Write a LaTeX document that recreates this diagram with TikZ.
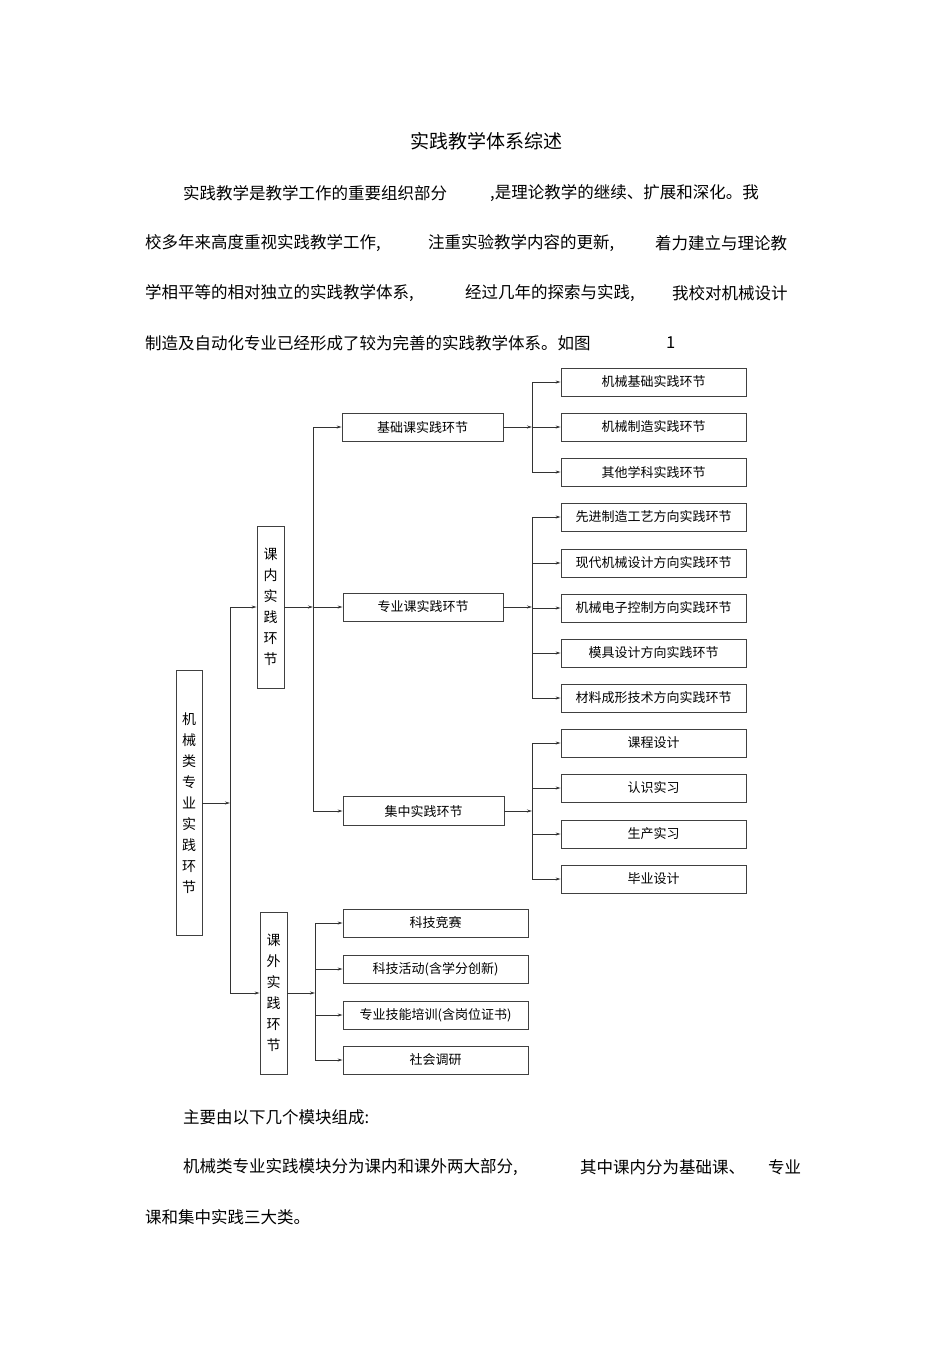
\documentclass[tikz,border=0pt]{standalone}
\usepackage{fontspec}
\setmainfont{Noto Sans CJK SC}
\usetikzlibrary{arrows.meta}
\begin{document}
\begin{tikzpicture}[x=1pt,y=-1pt,
 box/.style={draw=black!75,line width=0.8pt,inner sep=0pt,font=\fontsize{13}{15}\selectfont},
 vbox/.style={draw=black!75,line width=0.8pt,inner sep=0pt,minimum width=27pt,font=\fontsize{14}{21}\selectfont,align=center},
 txt/.style={anchor=west,inner sep=0pt,font=\fontsize{16.5}{18}\selectfont},
 ar/.style={-{Stealth[length=5pt,width=3pt]},line width=0.8pt,draw=black!80},
 ln/.style={line width=0.8pt,draw=black!80}]
\useasboundingbox (0,0) rectangle (950,1345);
\node[font=\fontsize{19}{20}\selectfont] (title) at (486,141) {实践教学体系综述};
\node[txt] (p1a) at (183,193) {实践教学是教学工作的重要组织部分};
\node[txt] (p1b) at (490,193) {,是理论教学的继续、扩展和深化。我};
\node[txt] (p2a) at (145,243) {校多年来高度重视实践教学工作,};
\node[txt] (p2b) at (428,243) {注重实验教学内容的更新,};
\node[txt] (p2c) at (655,243) {着力建立与理论教};
\node[txt] (p3a) at (145,293) {学相平等的相对独立的实践教学体系,};
\node[txt] (p3b) at (465,293) {经过几年的探索与实践,};
\node[txt] (p3c) at (672,293) {我校对机械设计};
\node[txt] (p4a) at (145,343) {制造及自动化专业已经形成了较为完善的实践教学体系。如图};
\node[txt] (p4b) at (666,343) {1};
\node[txt] (q1) at (183,1117) {主要由以下几个模块组成:};
\node[txt] (q2a) at (183,1167) {机械类专业实践模块分为课内和课外两大部分,};
\node[txt] (q2b) at (580,1167) {其中课内分为基础课、};
\node[txt] (q2c) at (768,1167) {专业};
\node[txt] (q3) at (145,1217) {课和集中实践三大类。};
% boxes
\node[vbox,minimum width=26pt,minimum height=265pt] (root) at (189,803) {机\\械\\类\\专\\业\\实\\践\\环\\节};
\node[vbox,minimum height=162pt] (kn) at (270.5,607) {课\\内\\实\\践\\环\\节};
\node[vbox,minimum height=162pt] (kw) at (273.5,993) {课\\外\\实\\践\\环\\节};
\node[box,minimum width=161pt,minimum height=28pt] (jc) at (422.5,427) {基础课实践环节};
\node[box,minimum width=160pt,minimum height=28pt] (zy) at (423,607) {专业课实践环节};
\node[box,minimum width=161pt,minimum height=29pt] (jz) at (423.5,811) {集中实践环节};
\foreach \n/\y/\t in {a/382/机械基础实践环节,b/427/机械制造实践环节,c/472/其他学科实践环节,
 d/517/先进制造工艺方向实践环节,e/563/现代机械设计方向实践环节,f/608/机械电子控制方向实践环节,
 g/653/模具设计方向实践环节,h/698/材料成形技术方向实践环节,
 i/743/课程设计,j/788/认识实习,k/834/生产实习,l/879/毕业设计}
 \node[box,minimum width=185pt,minimum height=28pt] (\n) at (653.5,\y) {\t};
\foreach \n/\y/\t in {m/923/科技竞赛,n/969/科技活动(含学分创新),o/1015/专业技能培训(含岗位证书),p/1060/社会调研}
 \node[box,minimum width=185pt,minimum height=28pt] (\n) at (435.5,\y) {\t};
% junctions
\coordinate (j0) at (230,803);
\coordinate (j1) at (313,607);
\coordinate (j2) at (315,993);
\coordinate (ja) at (532,427);
\coordinate (jb) at (532,607);
\coordinate (jcc) at (532,811);
\draw[ar] (root.east |- j0) -- (j0);
\draw[ln] (230,607) -- (230,993);
\draw[ar] (230,607) -- (kn.west);
\draw[ar] (230,993) -- (kw.west);
\draw[ar] (kn.east |- j1) -- (j1);
\draw[ln] (313,427) -- (313,811);
\draw[ar] (313,427) -- (jc.west);
\draw[ar] (j1) -- (zy.west);
\draw[ar] (313,811) -- (jz.west);
\draw[ar] (kw.east |- j2) -- (j2);
\draw[ln] (315,923) -- (315,1060);
\foreach \n in {m,n,o,p} \draw[ar] (315,0 |- \n.west) -- (\n.west);
\draw[ar] (jc.east) -- (ja);
\draw[ar] (zy.east) -- (jb);
\draw[ar] (jz.east) -- (jcc);
\draw[ln] (532,382) -- (532,472);
\draw[ln] (532,517) -- (532,698);
\draw[ln] (532,743) -- (532,879);
\foreach \n in {a,b,c,d,e,f,g,h,i,j,k,l} \draw[ar] (532,0 |- \n.west) -- (\n.west);
\end{tikzpicture}
\end{document}
